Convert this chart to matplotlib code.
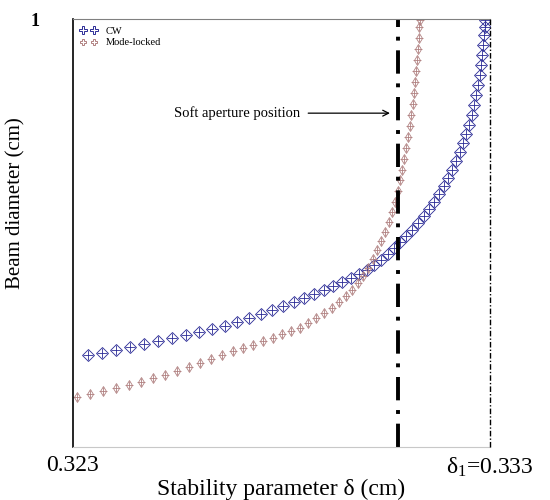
import matplotlib
matplotlib.use("Agg")
import matplotlib.pyplot as plt

# CW beam diameter vs stability parameter
cw_delta = [0.32336, 0.32370, 0.32403, 0.32437, 0.32470, 0.32504, 0.32537, 0.32571,
            0.32602, 0.32633, 0.32664, 0.32693, 0.32722, 0.32751, 0.32777, 0.32804,
            0.32830, 0.32854, 0.32878, 0.32902, 0.32923, 0.32945, 0.32967, 0.32986,
            0.33005, 0.33022, 0.33039, 0.33055, 0.33070, 0.33084, 0.33099, 0.33113,
            0.33127, 0.33142, 0.33154, 0.33166, 0.33178, 0.33190, 0.33199, 0.33209,
            0.33218, 0.33228, 0.33235, 0.33242, 0.33250, 0.33257, 0.33262, 0.33266,
            0.33271, 0.33276, 0.33278, 0.33281, 0.33283, 0.33286, 0.33287, 0.33288]
cw_diam = [0.215, 0.220, 0.227, 0.234, 0.241, 0.248, 0.255, 0.262,
           0.269, 0.276, 0.283, 0.292, 0.301, 0.311, 0.320, 0.329,
           0.339, 0.348, 0.357, 0.367, 0.376, 0.386, 0.395, 0.404,
           0.414, 0.425, 0.437, 0.451, 0.465, 0.479, 0.493, 0.507,
           0.523, 0.540, 0.556, 0.572, 0.591, 0.610, 0.629, 0.647,
           0.668, 0.689, 0.710, 0.731, 0.752, 0.776, 0.799, 0.822,
           0.846, 0.869, 0.893, 0.916, 0.939, 0.963, 0.981, 0.998]

# mode-locked beam diameter
ml_delta = [0.32310, 0.32341, 0.32372, 0.32403, 0.32434, 0.32463, 0.32492, 0.32521,
            0.32549, 0.32578, 0.32605, 0.32631, 0.32657, 0.32684, 0.32708, 0.32732,
            0.32756, 0.32780, 0.32801, 0.32823, 0.32844, 0.32864, 0.32883, 0.32902,
            0.32921, 0.32938, 0.32955, 0.32969, 0.32983, 0.32995, 0.33007, 0.33019,
            0.33029, 0.33039, 0.33048, 0.33058, 0.33065, 0.33072, 0.33079, 0.33084,
            0.33089, 0.33094, 0.33099, 0.33103, 0.33108, 0.33111, 0.33115, 0.33118,
            0.33120, 0.33123, 0.33125, 0.33127, 0.33129, 0.33130, 0.33131]
ml_diam = [0.117, 0.124, 0.131, 0.138, 0.145, 0.152, 0.161, 0.168,
           0.178, 0.187, 0.196, 0.206, 0.215, 0.224, 0.231, 0.238,
           0.248, 0.255, 0.264, 0.271, 0.278, 0.290, 0.301, 0.313,
           0.325, 0.339, 0.353, 0.367, 0.383, 0.400, 0.418, 0.439,
           0.460, 0.481, 0.502, 0.526, 0.549, 0.572, 0.598, 0.624,
           0.647, 0.673, 0.699, 0.724, 0.750, 0.776, 0.801, 0.827,
           0.853, 0.879, 0.904, 0.930, 0.956, 0.981, 0.998]

aperture_pos = 0.33079
delta_1 = 0.333
x_ticks = [0.323, 0.333]
x_ticklabels = ["0.323", r"$\mathregular{\delta_{1}}$=0.333"]

plt.rcParams['font.family'] = ['Liberation Serif', 'DejaVu Serif']
plt.rcParams['mathtext.fontset'] = 'stix'

fig = plt.figure(figsize=(5.5, 5), dpi=100)
ax = fig.add_axes([0.1327, 0.106, 0.7583, 0.856])

cw_col = '#2b2b96'
ml_col = '#b08080'

# diamond + cross markers
ax.plot(cw_delta, cw_diam, ls='none', marker='D', ms=6, mfc='none', mec=cw_col, mew=0.6)
ax.plot(cw_delta, cw_diam, ls='none', marker='+', ms=6.5, mec=cw_col, mew=0.6)
ax.plot(ml_delta, ml_diam, ls='none', marker='d', ms=5, mfc='none', mec=ml_col, mew=0.6)
ax.plot(ml_delta, ml_diam, ls='none', marker='+', ms=5.5, mec=ml_col, mew=0.6)

# legend handles
h_cw = ax.plot([], [], ls='none', marker='P', ms=6, mfc='none', mec=cw_col, mew=0.7, label='CW')[0]
h_ml = ax.plot([], [], ls='none', marker='P', ms=5, mfc='none', mec=ml_col, mew=0.7, label='Mode-locked')[0]
ax.legend(handles=[h_cw, h_ml], loc='upper left', frameon=False, fontsize=7.5,
          numpoints=2, handlelength=1.6, handletextpad=0.8, borderaxespad=0.3,
          labelspacing=0.25)

ax.axvline(aperture_pos, color='black', lw=2.8, dashes=(6, 2.5, 1, 2.5))
ax.axvline(delta_1, color='black', lw=1.0, dashes=(4, 1.5, 1, 1.5), clip_on=False, zorder=5)

ax.annotate('Soft aperture position', xy=(0.33060, 0.780), xytext=(0.32844, 0.780),
            ha='right', va='center', fontsize=10.5,
            arrowprops=dict(arrowstyle='->', color='black', lw=0.9, shrinkA=4, shrinkB=0))

ax.set_xlim(0.323, 0.333)
ax.set_ylim(0, 1)
ax.set_xticks(x_ticks)
ax.set_xticklabels(x_ticklabels, fontsize=17)
ax.set_yticks([1])
ax.set_yticklabels(['1'], fontsize=13, fontweight='bold')
ax.tick_params(axis='x', length=0, pad=6)
ax.tick_params(axis='y', length=0, pad=24)

ax.set_xlabel('Stability parameter δ (cm)', fontsize=17, labelpad=0)
ax.set_ylabel('Beam diameter (cm)', fontsize=15)
ax.yaxis.set_label_coords(-0.115, 0.57)

ax.spines['right'].set_visible(False)
ax.spines['top'].set_color('#808080')
ax.spines['bottom'].set_color('#c8c8c8')
ax.spines['left'].set_color('black')
ax.spines['left'].set_linewidth(1.2)

fig.savefig('out.png', dpi=100)
